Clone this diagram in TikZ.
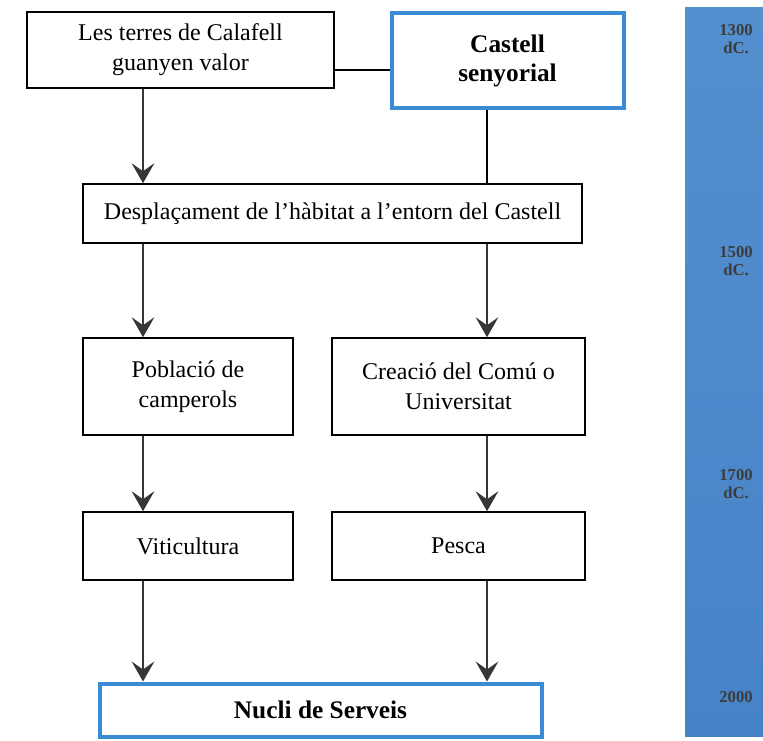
\documentclass[tikz,border=0pt]{standalone}
\usepackage{fontspec}
\setmainfont{Liberation Serif}
\usetikzlibrary{arrows.meta}
\definecolor{boxblue}{RGB}{58,138,212}
\definecolor{barblue}{RGB}{70,130,198}
\definecolor{bartop}{RGB}{84,144,208}
\definecolor{arrowgrey}{RGB}{55,55,55}
\definecolor{yeargrey}{RGB}{60,60,60}
\tikzset{
  box/.style={draw=black,line width=1.1pt,fill=white,align=center,inner sep=2pt,
    font=\fontsize{18}{22.5}\selectfont},
  keybox/.style={box,draw=boxblue,line width=3pt,font=\fontsize{19}{21.5}\selectfont\bfseries},
  arr/.style={line width=1.1pt,arrowgrey,-{Stealth[length=15pt,width=17pt,inset=6pt]}},
  link/.style={line width=1pt,black},
  year/.style={align=center,text=yeargrey,font=\fontsize{12.5}{14}\selectfont\bfseries}
}
\begin{document}
\begin{tikzpicture}[x=0.75pt,y=-0.75pt]
            \useasboundingbox (0,0) rectangle (763,741);

            % timeline
            \shade[top color=bartop,bottom color=barblue] (685,8) rectangle (763,736);
            \node[year] (y1300) at (736,39) {1300\\dC.};
            \node[year] (y1500) at (736,261) {1500\\dC.};
            \node[year] (y1700) at (736,484) {1700\\dC.};
            \node[year] (y2000) at (736,697) {2000};

            % columns and rows
            \coordinate (colL) at (143,0);
            \coordinate (colR) at (487,0);
            \coordinate (linkrow) at (0,70);

            \node[box,minimum width=307*0.75pt,minimum height=76*0.75pt] (terres) at (180.5,50) {Les terres de Calafell\\guanyen valor};
            \node[keybox,minimum width=232*0.75pt,minimum height=95*0.75pt] (castell) at (507.5,61) {Castell\\senyorial};
            \node[box,minimum width=499*0.75pt,minimum height=59*0.75pt] (desplac) at (332.5,213.5) {Desplaçament de l’hàbitat a l’entorn del Castell};
            \node[box,minimum width=210*0.75pt,minimum height=97*0.75pt] (poblacio) at (188,386.5) {Població de\\camperols};
            \node[box,minimum width=253*0.75pt,minimum height=97*0.75pt] (creacio) at (458.5,386.5) {Creació del Comú o\\Universitat};
            \node[box,minimum width=210*0.75pt,minimum height=68*0.75pt] (viti) at (188,546) {Viticultura};
            \node[box,minimum width=253*0.75pt,minimum height=68*0.75pt] (pesca) at (458.5,546) {Pesca};
            \node[keybox,minimum width=442*0.75pt,minimum height=53*0.75pt] (nucli) at (320.5,710) {Nucli de Serveis};

            \draw[link] (terres.east |- linkrow) -- (castell.west |- linkrow);
            \draw[link] (castell.south -| colR) -- (desplac.north -| colR);
            \draw[arr] (terres.south -| colL) -- (desplac.north -| colL);
            \draw[arr] (desplac.south -| colL) -- (poblacio.north -| colL);
            \draw[arr] (desplac.south -| colR) -- (creacio.north -| colR);
            \draw[arr] (poblacio.south -| colL) -- (viti.north -| colL);
            \draw[arr] (creacio.south -| colR) -- (pesca.north -| colR);
            \draw[arr] (viti.south -| colL) -- (nucli.north -| colL);
            \draw[arr] (pesca.south -| colR) -- (nucli.north -| colR);
        \end{tikzpicture}
\end{document}
